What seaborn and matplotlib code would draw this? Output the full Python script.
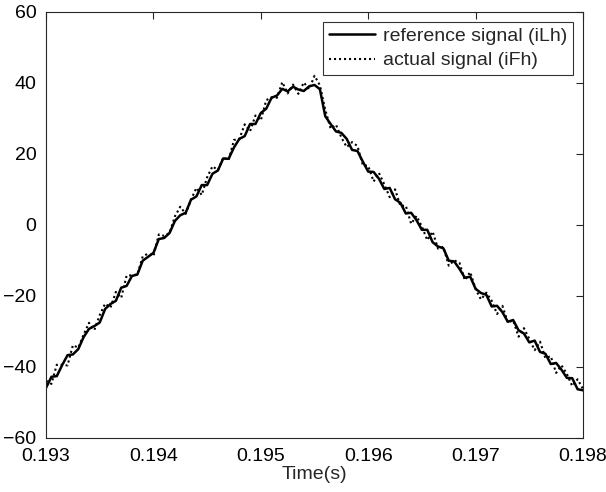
import matplotlib
matplotlib.use('Agg')
import matplotlib.pyplot as plt
import seaborn as sns
import pandas as pd

# sample times (s)
tempo = [
    0.19300, 0.19305, 0.19310, 0.19315, 0.19320, 0.19325, 0.19330, 0.19335, 0.19340, 0.19345,
    0.19350, 0.19355, 0.19360, 0.19365, 0.19370, 0.19375, 0.19380, 0.19385, 0.19390, 0.19395,
    0.19400, 0.19405, 0.19410, 0.19415, 0.19420, 0.19425, 0.19430, 0.19435, 0.19440, 0.19445,
    0.19450, 0.19455, 0.19460, 0.19465, 0.19470, 0.19475, 0.19480, 0.19485, 0.19490, 0.19495,
    0.19500, 0.19505, 0.19510, 0.19515, 0.19520, 0.19525, 0.19530, 0.19535, 0.19540, 0.19545,
    0.19550, 0.19555, 0.19560, 0.19565, 0.19570, 0.19575, 0.19580, 0.19585, 0.19590, 0.19595,
    0.19600, 0.19605, 0.19610, 0.19615, 0.19620, 0.19625, 0.19630, 0.19635, 0.19640, 0.19645,
    0.19650, 0.19655, 0.19660, 0.19665, 0.19670, 0.19675, 0.19680, 0.19685, 0.19690, 0.19695,
    0.19700, 0.19705, 0.19710, 0.19715, 0.19720, 0.19725, 0.19730, 0.19735, 0.19740, 0.19745,
    0.19750, 0.19755, 0.19760, 0.19765, 0.19770, 0.19775, 0.19780, 0.19785, 0.19790, 0.19795,
    0.19800,
]

# reference signal (iLh)
iLh = [
    -45.9, -42.8, -42.6, -39.5, -36.7, -36.5, -35.0, -31.6, -29.3, -28.5,
    -27.5, -23.7, -22.3, -21.4, -17.7, -17.2, -14.4, -14.0, -10.1, -9.0,
    -7.9, -4.0, -3.7, -2.3, 1.1, 2.7, 3.4, 7.1, 8.0, 11.2,
    11.2, 14.4, 15.3, 18.7, 18.6, 21.8, 24.2, 25.0, 28.4, 28.4,
    31.5, 32.7, 35.8, 36.4, 38.3, 37.6, 38.9, 38.1, 37.7, 39.0,
    39.4, 38.2, 30.6, 28.4, 26.3, 25.9, 24.2, 21.1, 20.8, 17.8,
    15.0, 14.9, 13.0, 10.1, 10.4, 7.2, 6.2, 3.2, 3.4, 1.3,
    -1.4, -1.4, -4.9, -6.1, -6.6, -10.1, -10.3, -12.4, -14.9, -14.6,
    -18.0, -19.2, -19.7, -23.0, -22.8, -24.6, -27.3, -26.8, -29.7, -30.6,
    -33.1, -32.6, -35.8, -36.3, -39.2, -38.9, -40.8, -43.1, -43.2, -46.3,
    -46.6,
]

# actual signal (iFh)
iFh = [
    -43.9, -44.8, -39.4, -39.4, -39.6, -33.9, -34.6, -30.9, -27.6, -29.6,
    -25.4, -22.2, -23.3, -18.9, -20.6, -14.3, -14.2, -14.0, -8.9, -8.1,
    -8.8, -2.7, -3.1, -2.3, 2.4, 5.1, 3.1, 7.1, 10.4, 8.4,
    13.4, 16.5, 15.4, 18.9, 18.2, 23.9, 24.2, 28.3, 26.4, 30.8,
    29.4, 35.1, 35.9, 35.8, 40.2, 37.0, 39.5, 36.9, 40.1, 38.2,
    42.0, 39.3, 32.4, 27.1, 28.2, 24.6, 21.9, 23.3, 22.2, 16.8,
    16.6, 12.2, 14.6, 11.4, 7.8, 10.0, 5.3, 5.4, 0.3, 2.5,
    -0.5, -4.3, -1.9, -6.7, -6.2, -11.5, -10.0, -10.7, -15.6, -13.3,
    -18.1, -21.0, -19.1, -21.4, -25.1, -22.8, -27.5, -26.9, -31.5, -29.1,
    -32.1, -35.3, -32.9, -37.5, -37.0, -41.7, -39.6, -42.0, -45.4, -43.5,
    -46.2,
]

x_ticks = [0.193, 0.194, 0.195, 0.196, 0.197, 0.198]
y_ticks = [-60, -40, -20, 0, 20, 40, 60]

sns.set_style("white")
plt.rcParams['font.family'] = ['Liberation Sans', 'DejaVu Sans']

fig = plt.figure(figsize=(6.06, 4.92), dpi=100)
ax = fig.add_axes([0.076, 0.110, 0.886, 0.866])

df = pd.DataFrame({"t": tempo, "ref": iLh, "act": iFh})
sns.lineplot(data=df, x="t", y="ref", color="black", linewidth=1.8,
             label="reference signal (iLh)", ax=ax)
sns.lineplot(data=df, x="t", y="act", color="black", linewidth=1.5,
             linestyle=(0, (1, 1.4)), label="actual signal (iFh)", ax=ax)

ax.set_xlim(0.193, 0.198)
ax.set_ylim(-60, 60)
ax.set_xticks(x_ticks)
ax.set_xticklabels([f"{v:.3f}" for v in x_ticks])
ax.set_yticks(y_ticks)
ax.tick_params(direction="in", length=5, width=0.8, top=True, right=True,
               labelsize=14, colors="#262626", labelcolor="black")
ax.tick_params(axis="x", pad=7)
ax.tick_params(axis="y", pad=7)
for s in ax.spines.values():
    s.set_visible(True)
    s.set_color("#262626")
    s.set_linewidth(0.8)

ax.set_xlabel("Time(s)", fontsize=14, labelpad=1)
ax.set_ylabel("")

leg = ax.legend(loc="upper right", fontsize=14, frameon=True, fancybox=False,
                edgecolor="black", handlelength=2.4, borderpad=0.3,
                labelspacing=0.35, handletextpad=0.4, borderaxespad=0.5)
leg.get_frame().set_linewidth(0.8)

plt.savefig("out.png", dpi=100)
plt.close()
